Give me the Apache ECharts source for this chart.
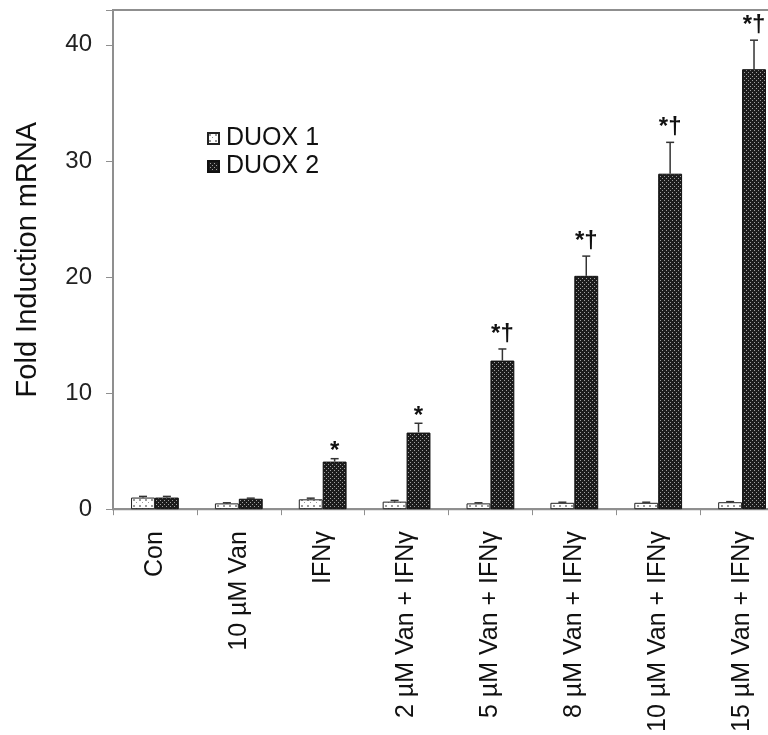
<!DOCTYPE html>
<html>
<head>
<meta charset="utf-8">
<script src="https://cdn.jsdelivr.net/npm/echarts@6/dist/echarts.min.js"></script>
<style>
  html, body { margin: 0; padding: 0; background: #fff; overflow: hidden; }
  #chart { width: 784px; height: 735px; }
</style>
</head>
<body>
<div id="chart"></div>
<script>
// Treatment groups along the x axis
const categories = ['Con', '10 µM Van', 'IFNγ', '2 µM Van + IFNγ', '5 µM Van + IFNγ',
                    '8 µM Van + IFNγ', '10 µM Van + IFNγ', '15 µM Van + IFNγ'];
// Mean fold induction and upper error (SEM)
const duox1 = [1.0, 0.5, 0.85, 0.65, 0.5, 0.55, 0.55, 0.6];
const duox1Err = [0.1, 0.05, 0.1, 0.1, 0.05, 0.05, 0.05, 0.05];
const duox2 = [1.0, 0.9, 4.1, 6.6, 12.8, 20.1, 28.9, 37.9];
const duox2Err = [0.1, 0.05, 0.25, 0.8, 1.0, 1.7, 2.7, 2.5];
// Significance markers above the bars
const duox1Marks = ['', '', '', '', '', '', '', ''];
const duox2Marks = ['', '', '*', '*', '*†', '*†', '*†', '*†'];
const yTicks = [0, 10, 20, 30, 40];

const FONT = '"Liberation Sans", Arial, sans-serif';
const GAP = 0.43; // barCategoryGap fraction

function makePattern(size, bg, dots, dotColor) {
  const c = document.createElement('canvas');
  c.width = size; c.height = size;
  const g = c.getContext('2d');
  g.fillStyle = bg; g.fillRect(0, 0, size, size);
  g.fillStyle = dotColor;
  dots.forEach(d => g.fillRect(d[0], d[1], d[2] || 1, d[3] || 1));
  return c;
}
const lightPattern = makePattern(6, '#ffffff', [[1, 1, 2, 2], [4, 4, 1, 1]], '#9a9a9a');
const darkPattern = makePattern(4, '#1c1c1c', [[0, 0], [2, 2]], '#a0a0a0');

function errData(means, errs) {
  return means.map((m, i) => [i, m, errs[i]]);
}

// Upward error bar with cap, plus an optional significance marker above it
function errRenderer(side, marks) {
  return function (params, api) {
    const idx = api.value(0);
    const mean = api.value(1);
    const err = api.value(2);
    const mark = marks[params.dataIndex];
    const catW = api.size([1, 0])[0];
    const bw = catW * (1 - GAP) / 2;
    const base = api.coord([idx, mean]);
    const top = api.coord([idx, mean + err]);
    const x = base[0] + side * bw / 2;
    const children = [
      { type: 'line', shape: { x1: x, y1: base[1], x2: x, y2: top[1] },
        style: { stroke: '#333', lineWidth: 1.5 } },
      { type: 'line', shape: { x1: x - 4, y1: top[1], x2: x + 4, y2: top[1] },
        style: { stroke: '#333', lineWidth: 1.5 } }
    ];
    if (mark) {
      // a lone asterisk sits closer to the bar than the taller dagger pair
      const lift = mark === '*' ? -5 : 3;
      children.push({ type: 'text', x: x, y: top[1] - lift, style: {
        text: mark, align: 'center', verticalAlign: 'bottom',
        fontSize: 24, fontWeight: 'bold', fontFamily: FONT, fill: '#111' } });
    }
    return { type: 'group', children: children };
  };
}

const chart = echarts.init(document.getElementById('chart'), null, { renderer: 'canvas' });
chart.setOption({
  animation: false,
  backgroundColor: '#fff',
  grid: { left: 113, top: 10, right: 0, height: 502, show: true,
          borderColor: '#8f8f8f', borderWidth: 2, backgroundColor: 'transparent' },
  legend: {
    orient: 'vertical', left: 202, top: 121, itemGap: 3,
    itemWidth: 11, itemHeight: 11, icon: 'rect',
    data: ['DUOX 1', 'DUOX 2'],
    textStyle: { fontSize: 25, fontFamily: FONT, color: '#111', padding: [0, 0, 0, 2] }
  },
  xAxis: {
    type: 'category', data: categories,
    axisLine: { lineStyle: { color: '#8f8f8f', width: 2 } },
    axisTick: { show: true, length: 6, lineStyle: { color: '#8f8f8f' } },
    axisLabel: { rotate: 90, margin: 22, fontSize: 25, fontFamily: FONT, color: '#111', interval: 0 }
  },
  yAxis: {
    type: 'value', min: 0, max: 43, interval: 10,
    name: 'Fold Induction mRNA', nameLocation: 'middle', nameGap: 71,
    nameTextStyle: { fontSize: 29, fontFamily: FONT, color: '#111' },
    axisLine: { show: true, lineStyle: { color: '#8f8f8f', width: 2 } },
    axisTick: { show: true, length: 7, lineStyle: { color: '#8f8f8f' } },
    splitLine: { show: false },
    axisLabel: {
      fontSize: 24, fontFamily: FONT, color: '#222', margin: 21,
      formatter: v => (yTicks.indexOf(v) >= 0 ? String(v) : '')
    }
  },
  series: [
    { name: 'DUOX 1', type: 'bar', data: duox1, barGap: '0%', barCategoryGap: (GAP * 100) + '%',
      itemStyle: { color: { image: lightPattern, repeat: 'repeat' }, borderColor: '#222', borderWidth: 1 } },
    { name: 'DUOX 2', type: 'bar', data: duox2, barGap: '0%', barCategoryGap: (GAP * 100) + '%',
      itemStyle: { color: { image: darkPattern, repeat: 'repeat' }, borderColor: '#111', borderWidth: 1 } },
    { type: 'custom', renderItem: errRenderer(-1, duox1Marks), data: errData(duox1, duox1Err), z: 5, clip: false,
      encode: { x: 0, y: 1 } },
    { type: 'custom', renderItem: errRenderer(1, duox2Marks), data: errData(duox2, duox2Err), z: 5, clip: false,
      encode: { x: 0, y: 1 } }
  ]
});
</script>
</body>
</html>
